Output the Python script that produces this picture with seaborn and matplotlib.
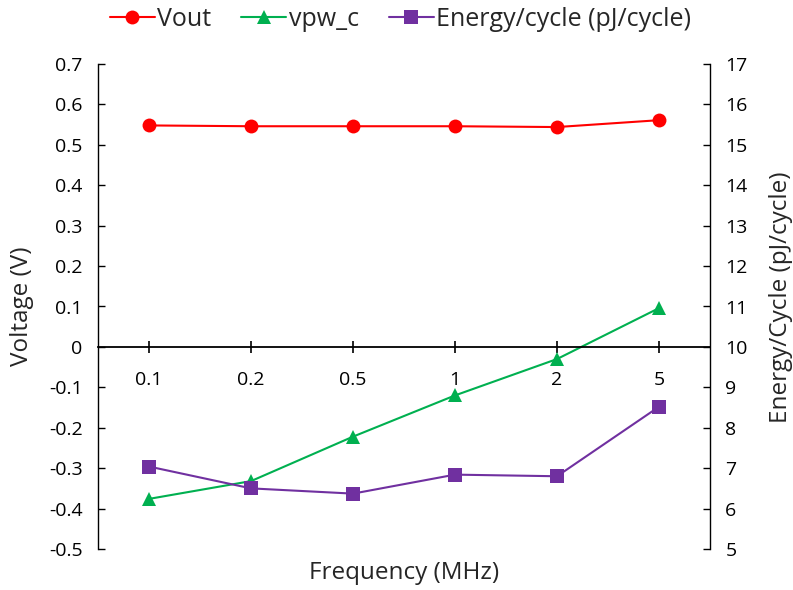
import matplotlib
matplotlib.use("Agg")
import matplotlib.pyplot as plt
import seaborn as sns
import pandas as pd
from matplotlib.lines import Line2D

# Measurement data
frequencies = ["0.1", "0.2", "0.5", "1", "2", "5"]
vout = [0.548, 0.546, 0.546, 0.546, 0.544, 0.561]
vpw_c = [-0.376, -0.332, -0.222, -0.120, -0.030, 0.096]
energy = [7.04, 6.50, 6.37, 6.84, 6.80, 8.52]
voltage_ticks = [-0.5, -0.4, -0.3, -0.2, -0.1, 0, 0.1, 0.2, 0.3, 0.4, 0.5, 0.6, 0.7]
voltage_labels = ["-0.5", "-0.4", "-0.3", "-0.2", "-0.1", "0", "0.1", "0.2", "0.3",
                  "0.4", "0.5", "0.6", "0.7"]
energy_ticks = list(range(5, 18))

RED = "#FF0000"
GREEN = "#00B050"
PURPLE = "#7030A0"

sns.set_theme(style="white")
plt.rcParams["font.family"] = ["Open Sans", "DejaVu Sans"]

df = pd.DataFrame({"freq": frequencies, "vout": vout, "vpw_c": vpw_c, "energy": energy})

fig = plt.figure(figsize=(7.93, 5.90), dpi=100)
ax = fig.add_axes([98 / 793, 1 - 549 / 590, (710 - 98) / 793, (549 - 64) / 590])
ax2 = ax.twinx()

sns.lineplot(data=df, x="freq", y="vout", ax=ax, color=RED, marker="o",
             markersize=10, linewidth=1.5, markeredgewidth=0, sort=False)
sns.lineplot(data=df, x="freq", y="vpw_c", ax=ax, color=GREEN, marker="^",
             markersize=10, linewidth=1.5, markeredgewidth=0, sort=False)
sns.lineplot(data=df, x="freq", y="energy", ax=ax2, color=PURPLE,
             marker="s", markersize=9.5, linewidth=1.5, markeredgewidth=0, sort=False)

ax.set_xlim(-0.5, 5.5)
ax.set_ylim(-0.5, 0.7)
ax2.set_ylim(5, 17)
ax.set_yticks(voltage_ticks)
ax.set_yticklabels(voltage_labels)
ax2.set_yticks(energy_ticks)

for a in (ax, ax2):
    for s in a.spines.values():
        s.set_color("#000000")
        s.set_linewidth(1.0)
    a.spines["top"].set_visible(False)
    a.grid(False)
ax.spines["right"].set_visible(False)
ax2.spines["left"].set_visible(False)
ax2.spines["bottom"].set_visible(False)
ax.spines["bottom"].set_position(("data", 0))
ax.spines["bottom"].set_linewidth(1.3)

ax.tick_params(axis="y", direction="in", length=5, width=1, labelsize=14,
               colors="#000000", pad=11, left=True)
ax2.tick_params(axis="y", direction="in", length=5, width=1, labelsize=14,
                colors="#000000", pad=11, right=True)
ax.tick_params(axis="x", direction="inout", length=9, width=1.2, labelsize=14,
               colors="#000000", pad=13, bottom=True)

ax.set_xlabel("Frequency (MHz)", fontsize=17.5)
ax.xaxis.set_label_coords(0.5, -(573 - 549) / 485)
ax.xaxis.label.set_va("center")
ax.set_ylabel("Voltage (V)", fontsize=17.5)
ax.yaxis.set_label_coords(-(98 - 22) / 612, 0.5)
ax.yaxis.label.set_va("center")
ax2.set_ylabel("Energy/Cycle (pJ/cycle)", fontsize=17.5)
ax2.yaxis.set_label_coords(1 + (781 - 710) / 612, (549 - 297) / 485)
ax2.yaxis.label.set_va("center")

handles = [
    Line2D([], [], color=RED, marker="o", markersize=10, linewidth=1.5, markeredgewidth=0),
    Line2D([], [], color=GREEN, marker="^", markersize=10, linewidth=1.5, markeredgewidth=0),
    Line2D([], [], color=PURPLE, marker="s", markersize=9.5, linewidth=1.5, markeredgewidth=0),
]
fig.legend(handles, ["Vout", "vpw_c", "Energy/cycle (pJ/cycle)"], loc="center",
           bbox_to_anchor=(0.505, 1 - 19 / 590), ncol=3, frameon=False, fontsize=18,
           handlelength=1.8, handletextpad=0.1, columnspacing=1.2)

fig.savefig("out.png", dpi=100)
